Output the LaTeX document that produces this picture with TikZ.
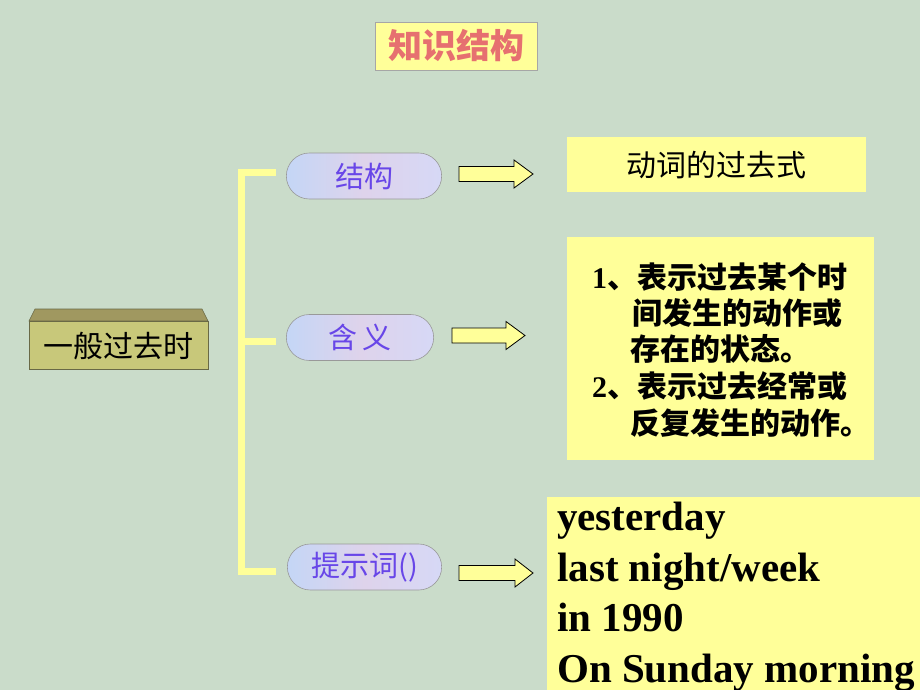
\documentclass[tikz,border=0pt]{standalone}
\usepackage{fontspec}
\setmainfont{Liberation Serif}
\newfontfamily\cjk{Noto Sans CJK SC}
\usetikzlibrary{shapes.misc}
\definecolor{bgc}{RGB}{202,220,202}
\definecolor{yel}{RGB}{255,255,153}
\definecolor{olivefront}{RGB}{200,200,122}
\definecolor{olivetop}{RGB}{160,152,96}
\definecolor{oliveedge}{RGB}{105,105,70}
\definecolor{pillfill}{RGB}{214,216,246}
\definecolor{pillblue}{RGB}{196,214,246}
\definecolor{purp}{RGB}{104,70,232}
\definecolor{salmon}{RGB}{230,112,112}
\tikzset{
  cjktext/.style={font=\cjk\fontsize{#1}{#1}\selectfont, inner sep=0pt},
  pill/.style={rounded rectangle, draw=gray!80, line width=0.6pt, left color=pillblue, right color=pillfill, middle color=pillfill!80!pink,
    minimum height=46pt, text=purp, font=\cjk\fontsize{29}{29}\selectfont},
  yelbox/.style={fill=yel},
  bracket/.style={draw=yel, line width=7pt},
  blockarrow/.style={draw=black, line width=0.8pt, fill=yel, line join=miter},
  bodyline/.style={anchor=west, inner sep=0pt, font=\cjk\bfseries\fontsize{30}{30}\selectfont},
  engline/.style={anchor=base west, inner sep=0pt, font=\bfseries\fontsize{41}{41}\selectfont},
}
\newcommand{\blkarrow}[4]{% x0, yc, headstart, xend
  \filldraw[blockarrow] (#1,#2-7.5) -- (#3,#2-7.5) -- (#3,#2-14) -- (#4,#2) -- (#3,#2+14) -- (#3,#2+7.5) -- (#1,#2+7.5) -- cycle;}
\begin{document}
\begin{tikzpicture}[x=1pt,y=-1pt]
\useasboundingbox (0,0) rectangle (920,690);
\fill[bgc] (0,0) rectangle (920,690);

% title
\node[draw=gray!70, line width=0.5pt, fill=yel, minimum width=162pt, minimum height=48pt, inner sep=0pt] (title) at (456,46) {};
\node[inner sep=0pt, text=salmon, font=\cjk\bfseries\fontsize{34}{34}\selectfont] (titletext) at (456,46) {知识结构};

% left 3D box
\filldraw[fill=olivetop, draw=oliveedge, line width=0.6pt] (35,309) -- (202,309) -- (208,321) -- (29,321) -- cycle;
\node[draw=oliveedge, line width=0.6pt, fill=olivefront, minimum width=179pt, minimum height=48pt, inner sep=0pt] (main) at (118.5,345) {};
\node[cjktext=30] (maintext) at (118.5,346) {一般过去时};

% bracket
\coordinate (bt) at (241,168.5);
\coordinate (bb) at (241,574.5);
\coordinate (b1) at (241,172);
\coordinate (b2) at (241,341);
\coordinate (b3) at (241,571);
\draw[bracket] (bt) -- (bb);
\draw[bracket] (b1) -- ++(35,0);
\draw[bracket] (b2) -- ++(35,0);
\draw[bracket] (b3) -- ++(35,0);

% pills
\node[pill, minimum width=162pt] (p1) at (364,176) {结构};
\node[pill, minimum width=154pt] (p2) at (360,337.5) {含\,义};
\node[pill, minimum width=161pt] (p3) at (364.5,567) {提示词()};

% arrows
\blkarrow{459}{174}{514}{533}
\blkarrow{452}{335.5}{506}{525}
\blkarrow{459}{573}{515}{533}

% box 1
\node[yelbox, minimum width=299pt, minimum height=55pt, inner sep=0pt] (r1) at (716.5,164.5) {};
\node[cjktext=30] (r1text) at (716.5,165) {动词的过去式};

% box 2
\node[yelbox, minimum width=307pt, minimum height=223pt, inner sep=0pt] (r2) at (720.5,348.5) {};
\node[bodyline] (l1) at (592,277) {\fontsize{30}{30}\selectfont\normalfont\bfseries 1\cjk\bfseries 、表示过去某个时};
\node[bodyline] (l2) at (632,313) {间发生的动作或};
\node[bodyline] (l3) at (630,349) {存在的状态。};
\node[bodyline] (l4) at (592,386) {\fontsize{30}{30}\selectfont\normalfont\bfseries 2\cjk\bfseries 、表示过去经常或};
\node[bodyline] (l5) at (630,423) {反复发生的动作。};

% box 3
\node[yelbox, minimum width=373pt, minimum height=193pt, inner sep=0pt] (r3) at (733.5,593.5) {};
\node[engline] (e1) at (557,530) {yesterday};
\node[engline] (e2) at (557,581) {last night/week};
\node[engline] (e3) at (557,631) {in 1990};
\node[engline] (e4) at (557,682) {On Sunday morning};
\end{tikzpicture}
\end{document}
